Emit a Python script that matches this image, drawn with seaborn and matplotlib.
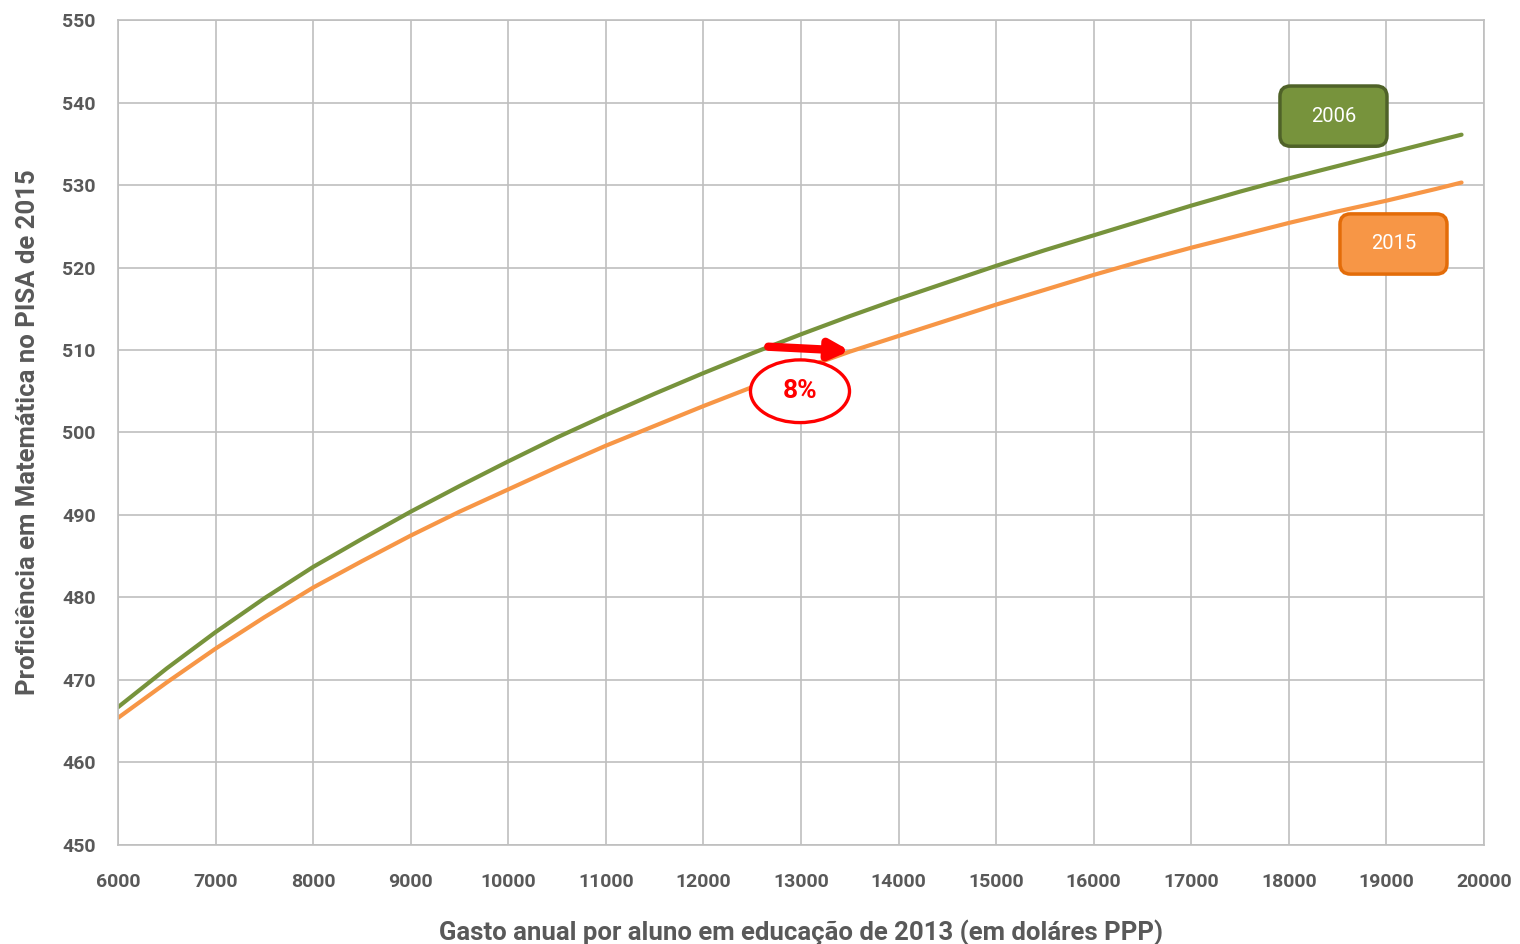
import pandas as pd
import matplotlib.pyplot as plt
import seaborn as sns
from matplotlib.patches import Ellipse, FancyArrowPatch, FancyBboxPatch

# valores
gasto = [6000, 6500, 7000, 7500, 8000, 8500, 9000, 9500, 10000, 10500,
         11000, 11500, 12000, 12500, 13000, 13500, 14000, 14500, 15000,
         15500, 16000, 16500, 17000, 17500, 18000, 18500, 19000, 19500, 19770]
prof_2006 = [466.7, 471.4, 475.8, 479.9, 483.7, 487.1, 490.4, 493.5, 496.5, 499.4,
             502.1, 504.7, 507.2, 509.6, 511.9, 514.1, 516.2, 518.2, 520.2,
             522.1, 523.9, 525.7, 527.5, 529.2, 530.8, 532.3, 533.8, 535.3, 536.1]
prof_2015 = [465.4, 469.7, 473.8, 477.6, 481.2, 484.4, 487.5, 490.4, 493.1, 495.8,
             498.4, 500.8, 503.2, 505.5, 507.7, 509.8, 511.7, 513.6, 515.5,
             517.3, 519.1, 520.8, 522.4, 523.9, 525.4, 526.8, 528.1, 529.5, 530.3]

df = pd.DataFrame({
    "Gasto": gasto * 2,
    "Proficiencia": prof_2006 + prof_2015,
    "Ano": ["2006"] * len(gasto) + ["2015"] * len(gasto),
})

sns.set_style("white")
plt.rcParams['font.family'] = ['Roboto', 'DejaVu Sans']

fig = plt.figure(figsize=(15.2, 9.44), dpi=100)
ax = fig.add_axes([0.0776, 0.1049, 0.8987, 0.8739])

palette = {"2006": "#77933C", "2015": "#F79646"}
sns.lineplot(data=df, x="Gasto", y="Proficiencia", hue="Ano", palette=palette,
             linewidth=3.0, legend=False, ax=ax)

ax.set_xlim(6000, 20000)
ax.set_ylim(450, 550)
ax.set_xticks(range(6000, 20001, 1000))
ax.set_yticks(range(450, 551, 10))
ax.grid(True, color="#BFBFBF", linewidth=1.2)
ax.set_axisbelow(True)
for s in ax.spines.values():
    s.set_color("#BFBFBF")
    s.set_linewidth(1.2)
ax.tick_params(axis="both", length=0, labelsize=14, labelcolor="#595959")
ax.tick_params(axis="x", pad=20)
ax.tick_params(axis="y", pad=16)
for lab in ax.get_xticklabels() + ax.get_yticklabels():
    lab.set_fontweight("bold")

ax.set_xlabel("Gasto anual por aluno em educação de 2013 (em doláres PPP)",
              fontsize=18.5, fontweight="bold", color="#595959", labelpad=21)
ax.set_ylabel("Proficiência em Matemática no PISA de 2015",
              fontsize=18.5, fontweight="bold", color="#595959", labelpad=16)

# caixas de rotulo
caixas = [("2006", 17909, 534.7, "#77933C", "#4F6228"),
          ("2015", 18524, 519.2, "#F79646", "#E36C09")]
for txt, x0, y0, fc, ec in caixas:
    box = FancyBboxPatch((x0, y0), 1097, 7.3,
                         boxstyle="round,pad=0,rounding_size=110",
                         mutation_aspect=0.0115, fc=fc, ec=ec, lw=2.5, zorder=5)
    ax.add_patch(box)
    ax.text(x0 + 548, y0 + 3.65, txt, ha="center", va="center", fontsize=14.5,
            color="white", zorder=6)

# seta e elipse 8%
arrow = FancyArrowPatch((12665, 510.4), (13502, 509.9), arrowstyle="-|>",
                        mutation_scale=28, color="#FF0000", lw=6, zorder=6,
                        shrinkA=0, shrinkB=0)
ax.add_patch(arrow)
ell = Ellipse((12990, 505.0), width=1015, height=7.6, fc="white", ec="#FF0000",
              lw=2.4, zorder=6)
ax.add_patch(ell)
ax.text(12990, 505.0, "8%", ha="center", va="center", fontsize=19,
        fontweight="bold", color="#FF0000", zorder=7)

fig.savefig("out.png", dpi=100)
